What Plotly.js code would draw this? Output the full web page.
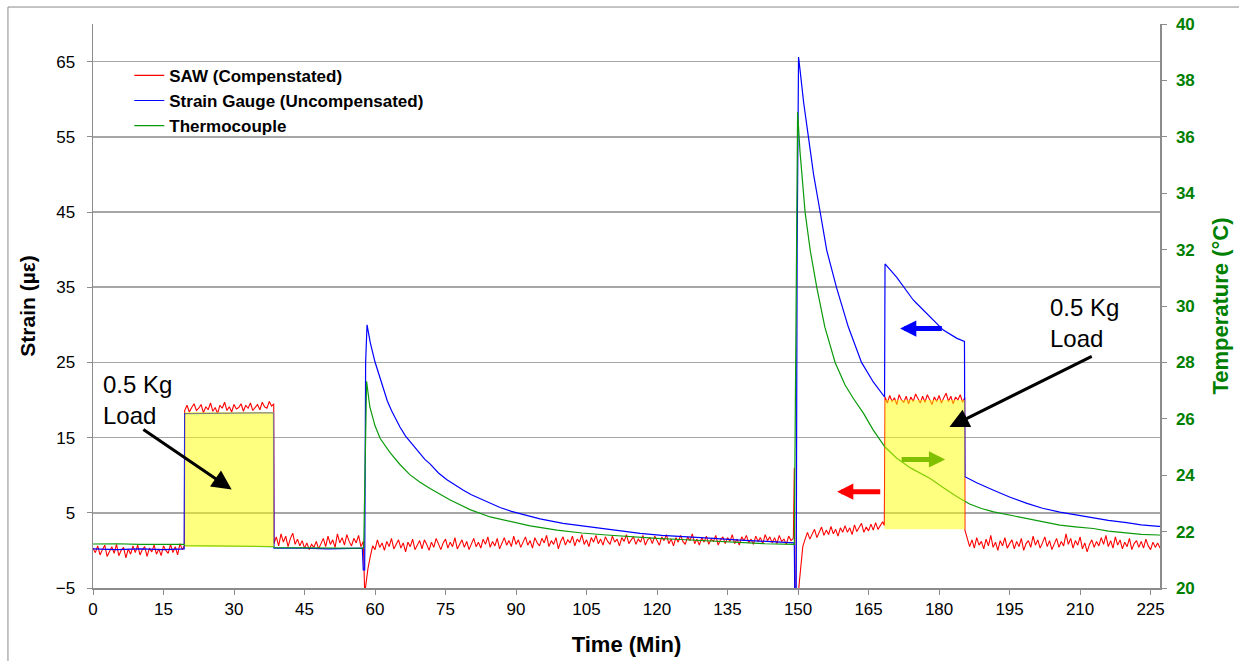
<!DOCTYPE html>
<html>
<head>
<meta charset="utf-8">
<script src="https://cdn.plot.ly/plotly-3.0.1.min.js"></script>
<style>html,body{margin:0;padding:0;background:#fff;}#chart{width:1239px;height:661px;}</style>
</head>
<body>
<div id="chart"></div>
<script>
// ---- SAW (compensated) strain, µε ----
const sawTime = [
0,0.5,1,1.5,2,2.5,3,3.5,4,4.5,5,5.5,6,6.5,7,7.5,8,8.5,9,9.5,10,10.5,11,11.5,12,12.5,13,13.5,14,14.5,15,15.5,16,16.5,17,17.5,18,18.5,19,19.45,
19.5,20,20.5,21,21.5,22,22.5,23,23.5,24,24.5,25,25.5,26,26.5,27,27.5,28,28.5,29,29.5,30,30.5,31,31.5,32,32.5,33,33.5,34,34.5,35,35.5,36,36.5,37,37.5,38,38.45,
38.5,39,39.5,40,40.5,41,41.5,42,42.5,43,43.5,44,44.5,45,45.5,46,46.5,47,47.5,48,48.5,49,49.5,50,50.5,51,51.5,52,52.5,53,53.5,54,54.5,55,55.5,56,56.5,57,57.5,
57.8,58,58.5,59,59.5,
60,60.5,61,61.5,62,62.5,63,63.5,64,64.5,65,65.5,66,66.5,67,67.5,68,68.5,69,69.5,
70,70.5,71,71.5,72,72.5,73,73.5,74,74.5,75,75.5,76,76.5,77,77.5,78,78.5,79,79.5,
80,80.5,81,81.5,82,82.5,83,83.5,84,84.5,85,85.5,86,86.5,87,87.5,88,88.5,89,89.5,
90,90.5,91,91.5,92,92.5,93,93.5,94,94.5,95,95.5,96,96.5,97,97.5,98,98.5,99,99.5,
100,100.5,101,101.5,102,102.5,103,103.5,104,104.5,105,105.5,106,106.5,107,107.5,108,108.5,109,109.5,
110,110.5,111,111.5,112,112.5,113,113.5,114,114.5,115,115.5,116,116.5,117,117.5,118,118.5,119,119.5,
120,120.5,121,121.5,122,122.5,123,123.5,124,124.5,125,125.5,126,126.5,127,127.5,128,128.5,129,129.5,
130,130.5,131,131.5,132,132.5,133,133.5,134,134.5,135,135.5,136,136.5,137,137.5,138,138.5,139,139.5,
140,140.5,141,141.5,142,142.5,143,143.5,144,144.5,145,145.5,146,146.5,147,147.5,148,148.5,149,
149.2,149.4,149.9,150.3,150.7,151,151.5,
152,152.5,153,153.5,154,154.5,155,155.5,156,156.5,157,157.5,158,158.5,159,159.5,160,160.5,161,161.5,
162,162.5,163,163.5,164,164.5,165,165.5,166,166.5,167,167.5,168,168.35,168.4,
168.5,169,169.5,170,170.5,171,171.5,172,172.5,173,173.5,174,174.5,175,175.5,176,176.5,177,177.5,178,
178.5,179,179.5,180,180.5,181,181.5,182,182.5,183,183.5,184,184.5,185,185.45,185.5,
186,186.5,187,187.5,188,188.5,189,189.5,190,190.5,191,191.5,192,192.5,193,193.5,194,194.5,195,195.5,
196,196.5,197,197.5,198,198.5,199,199.5,200,200.5,201,201.5,202,202.5,203,203.5,204,204.5,205,205.5,
206,206.5,207,207.5,208,208.5,209,209.5,210,210.5,211,211.5,212,212.5,213,213.5,214,214.5,215,215.5,
216,216.5,217,217.5,218,218.5,219,219.5,220,220.5,221,221.5,222,222.5,223,223.5,224,224.5,225,225.5,
226,226.5,227];
const sawStrain = [
0.3,-0.3,0.6,-0.6,0.1,0.7,-0.8,-0.1,0.5,-0.4,0.8,-0.7,0.0,0.4,-1.0,0.2,-0.5,0.6,-0.3,0.7,
-0.6,0.1,0.5,-0.8,0.3,-0.2,0.7,-0.5,0.2,-0.7,0.6,0.0,-0.4,0.8,-0.3,0.5,-0.6,0.9,0.1,0.6,
18.6,19.3,18.4,19.0,19.5,18.6,18.9,19.4,18.3,19.1,18.7,19.6,18.5,19.0,18.2,19.3,18.9,19.7,18.6,19.1,
18.4,19.4,18.8,19.0,19.5,18.5,19.3,18.9,19.6,18.6,19.0,19.4,18.7,19.7,19.1,18.9,19.8,19.2,19.5,
0.9,1.8,0.6,2.2,1.1,1.9,0.5,1.6,2.3,0.8,1.5,0.6,1.3,0.3,1.0,0.1,0.8,0.4,1.2,0.2,
1.0,1.6,0.5,1.9,0.8,1.4,0.4,2.2,1.0,1.7,0.7,2.1,1.2,0.6,1.6,1.0,2.0,0.5,1.2,
-5.6,-4.8,-2.4,-0.8,0.6,
0.1,1.4,0.4,1.0,0.0,1.2,0.5,1.6,0.2,0.9,1.4,0.3,1.0,-0.2,1.1,0.5,1.5,0.1,0.7,1.3,
0.2,1.4,0.8,0.0,1.1,0.4,1.6,0.7,0.1,1.0,1.5,0.3,1.1,0.5,1.7,0.2,0.8,1.4,0.4,1.2,
0.1,0.9,1.6,0.5,1.1,0.3,1.5,0.8,1.8,0.4,1.2,0.6,1.6,0.2,1.0,1.7,0.7,1.3,0.5,1.9,
0.8,1.4,0.4,1.2,1.8,0.7,1.3,0.3,1.7,1.0,0.6,1.6,1.0,2.0,0.5,1.3,0.8,1.7,0.2,1.2,
1.8,0.7,1.4,1.0,1.9,0.6,1.5,1.1,2.1,0.8,1.4,0.5,1.7,1.1,2.0,0.9,1.5,0.7,1.8,1.2,
0.8,1.9,1.1,1.5,0.6,1.7,1.2,2.1,0.9,1.4,1.8,0.8,1.5,1.1,2.0,0.7,1.4,1.7,0.9,1.9,
1.2,0.7,1.8,1.3,2.1,0.9,1.5,0.6,1.7,1.1,2.0,1.2,0.8,1.8,1.3,2.2,0.9,1.5,0.7,1.7,
1.1,1.9,0.8,1.5,1.2,2.0,0.7,1.4,1.8,0.9,1.7,1.2,2.1,0.9,1.5,0.7,1.8,1.3,2.0,1.0,
1.5,0.8,1.9,1.2,1.7,0.9,2.1,1.3,1.8,1.0,1.7,0.9,2.0,1.2,1.5,0.8,1.9,1.3,1.6,
11.0,-7.0,-7.0,-4.0,-1.0,0.5,1.5,
2.4,1.5,2.1,2.8,1.7,2.5,3.1,2.0,2.7,2.1,3.2,2.2,2.8,1.9,3.0,2.4,3.3,2.4,3.0,2.1,
3.4,2.5,3.0,3.6,2.4,3.1,2.6,3.5,2.7,3.7,2.8,3.4,3.8,3.3,19.6,
20.4,19.6,20.6,19.8,20.3,19.4,20.7,20.0,19.7,20.5,19.5,20.4,19.8,20.8,20.1,19.6,20.5,19.7,20.7,20.0,
19.4,20.4,19.8,20.6,19.6,20.3,20.9,19.8,20.5,19.5,20.4,20.0,20.7,19.7,20.3,2.7,
1.6,0.5,1.4,0.3,1.7,0.7,1.2,0.2,1.5,0.6,2.0,0.4,1.1,0.0,1.3,0.6,1.7,0.3,0.9,1.4,
0.2,1.2,0.5,1.6,0.0,0.9,1.3,0.4,1.9,0.7,1.4,0.3,1.0,1.8,0.5,1.3,0.1,0.9,1.6,0.4,
1.2,0.6,2.2,0.8,1.6,0.3,1.3,0.7,1.8,0.2,1.0,-0.2,0.8,1.4,0.4,1.2,0.6,1.7,0.8,2.0,
0.5,1.3,0.3,1.8,0.7,1.4,0.2,1.1,0.5,1.6,0.1,0.9,1.3,0.4,1.2,0.3,1.5,0.6,0.1,1.1,
0.4,1.0,0.3];

// ---- Strain gauge (uncompensated), µε ----
const gaugeTime = [0,5,10,15,19.4,19.5,38.4,38.5,45,50,57.3,57.5,57.8,58.0,58.3,59.0,60.0,61.0,61.8,62.6,63.5,64.4,65.3,66.5,67.8,68.7,69.6,70.6,71.7,73.5,75.3,77,78.8,80.5,82.3,84.5,86.6,89,92.3,95.1,100,105.7,110,116.4,121,127,132,137.7,143,149,149.2,149.3,149.6,149.8,150.1,150.4,151.2,152.2,153.3,154.7,156.1,158.2,160.7,163.5,166,168.4,168.5,171,174.5,175.3,178.1,180.9,183.8,185.4,185.5,188,191.6,195,198.7,202,205.7,209,212.8,216,219.9,223,226.7,227];
const gaugeStrain = [0.2,0.1,0.2,0.1,0.2,18.2,18.3,0.3,0.3,0.2,0.3,-2.6,-2.6,25.0,30.0,27.6,25.05,23.0,21.3,19.9,18.6,17.4,16.4,15.2,14.2,13.5,12.8,12.1,11.5,10.3,9.4,8.7,8.0,7.4,6.9,6.2,5.7,5.2,4.7,4.2,3.6,3.1,2.75,2.26,2.0,1.81,1.6,1.37,1.2,1.0,1.0,-6.0,-6.0,40.0,65.6,64.0,59.5,55.0,50.0,45.0,39.9,34.9,29.7,25.0,22.4,20.4,38.1,36.3,33.3,32.8,31.0,29.3,28.2,27.8,9.8,9.0,8.0,7.1,6.25,5.6,5.1,4.75,4.4,4.0,3.7,3.4,3.2,3.2];

// ---- Thermocouple, °C ----
const tcTime = [0,5,10,15,19.4,19.6,25,30,38.4,38.6,45,50,57.4,57.6,58.0,58.2,58.9,60.0,61.1,63.2,65.3,67.4,69.5,71.7,76,80.2,84.5,88.7,93,98.7,104,109.3,114,119.9,125,130.6,137.7,143,149.2,149.6,149.9,150.4,151.5,152.6,154.0,155.7,157.9,160,161.8,163.9,166,168.5,171,174,178.1,181,184,186.5,189,191.6,195,198.7,202,205.7,209,212.8,216,219.9,223,226.7,227];
const tcTemp = [21.56,21.57,21.55,21.56,21.55,21.50,21.49,21.48,21.47,21.43,21.42,21.42,21.41,21.45,26.5,27.33,26.42,25.75,25.3,24.8,24.38,24.02,23.76,23.53,23.12,22.78,22.52,22.35,22.2,22.05,21.95,21.88,21.82,21.76,21.72,21.67,21.6,21.57,21.55,30.0,36.88,35.5,33.32,31.96,30.64,29.25,27.99,27.2,26.71,26.2,25.6,25.0,24.6,24.25,23.88,23.55,23.22,22.98,22.82,22.70,22.58,22.47,22.35,22.23,22.17,22.11,22.02,21.94,21.9,21.88,21.87];

// ---- 0.5 Kg load windows (highlighted) ----
const loadStart = [19.5, 168.4];
const loadEnd   = [38.5, 185.5];
const loadBase  = [0.45, 2.8];
const loadTop   = [18.4, 20.0];

// ---- axis ticks ----
const xTicks = [0,15,30,45,60,75,90,105,120,135,150,165,180,195,210,225];
const strainTicks = [-5,5,15,25,35,45,55,65];
const tempTicks = [20,22,24,26,28,30,32,34,36,38,40];

const FONT = 'Liberation Sans, Arial, sans-serif';
const RED = '#ff0000', BLUE = '#0000ff', GREEN = '#008000';

const traces = [
  {x: sawTime, y: sawStrain, name: 'SAW (Compenstated)', type: 'scatter', mode: 'lines',
   line: {color: RED, width: 1.1}, yaxis: 'y'},
  {x: gaugeTime, y: gaugeStrain, name: 'Strain Gauge (Uncompensated)', type: 'scatter', mode: 'lines',
   line: {color: BLUE, width: 1.2}, yaxis: 'y'},
  {x: tcTime, y: tcTemp, name: 'Thermocouple', type: 'scatter', mode: 'lines',
   line: {color: '#0a9a0a', width: 1.2}, yaxis: 'y2'}
];

const shapes = [
  {type: 'rect', xref: 'paper', yref: 'paper', x0: -0.0797, x1: 1.08, y0: -0.16, y1: 1.0301,
   line: {color: '#8a8a8a', width: 1}, fillcolor: 'rgba(0,0,0,0)', layer: 'below'}
];
loadStart.forEach((s, i) => {
  shapes.push({type: 'rect', xref: 'x', yref: 'y', x0: s, x1: loadEnd[i], y0: loadBase[i], y1: loadTop[i],
    fillcolor: '#ffff00', opacity: 0.5, line: {width: 0}, layer: 'above'});
});

const annotations = [
  {x: 1.7, y: 24.1, xref: 'x', yref: 'y', text: '0.5 Kg<br>Load', showarrow: false,
   xanchor: 'left', yanchor: 'top', align: 'left', font: {family: FONT, size: 24, color: '#000'}},
  {x: 203.2, y: 34.3, xref: 'x', yref: 'y', text: '0.5 Kg<br>Load', showarrow: false,
   xanchor: 'left', yanchor: 'top', align: 'left', font: {family: FONT, size: 24, color: '#000'}},
  {x: 29.5, y: 8.1, ax: 10.4, ay: 16.2, xref: 'x', yref: 'y', axref: 'x', ayref: 'y', text: '',
   showarrow: true, arrowhead: 2, arrowsize: 1.3, arrowwidth: 3, arrowcolor: '#000'},
  {x: 182.2, y: 16.4, ax: 212.8, ay: 25.9, xref: 'x', yref: 'y', axref: 'x', ayref: 'y', text: '',
   showarrow: true, arrowhead: 2, arrowsize: 1.3, arrowwidth: 3, arrowcolor: '#000'},
  {x: 171.7, y: 29.5, ax: 180.9, ay: 29.5, xref: 'x', yref: 'y', axref: 'x', ayref: 'y', text: '',
   showarrow: true, arrowhead: 2, arrowsize: 0.65, arrowwidth: 5, arrowcolor: '#0000ff'},
  {x: 181.3, y: 12.1, ax: 171.7, ay: 12.1, xref: 'x', yref: 'y', axref: 'x', ayref: 'y', text: '',
   showarrow: true, arrowhead: 2, arrowsize: 0.65, arrowwidth: 5, arrowcolor: '#80c000'},
  {x: 158.3, y: 7.8, ax: 167.8, ay: 7.8, xref: 'x', yref: 'y', axref: 'x', ayref: 'y', text: '',
   showarrow: true, arrowhead: 2, arrowsize: 0.65, arrowwidth: 5, arrowcolor: '#ff0000'}
];

const layout = {
  width: 1239, height: 661,
  margin: {l: 93, r: 79, t: 24, b: 73, pad: 0},
  paper_bgcolor: '#ffffff', plot_bgcolor: '#ffffff',
  font: {family: FONT, color: '#000'},
  showlegend: true,
  legend: {x: 0.034, y: 0.94, xanchor: 'left', yanchor: 'top', bgcolor: 'rgba(0,0,0,0)',
    font: {family: FONT, size: 17, color: '#000', weight: 'bold'}, tracegroupgap: 0},
  xaxis: {range: [0, 227], tickvals: xTicks, ticks: 'outside', ticklen: 5, tickcolor: '#8c8c8c',
    showline: true, linecolor: '#8c8c8c', linewidth: 1.5, showgrid: false, zeroline: false,
    tickfont: {family: FONT, size: 17, color: '#000'}, ticklabelstandoff: 0,
    title: {text: 'Time (Min)', font: {family: FONT, size: 22, color: '#000', weight: 'bold'}, standoff: 18}},
  yaxis: {range: [-5, 70], tickvals: strainTicks, ticks: 'outside', ticklen: 5, tickcolor: '#8c8c8c',
    showline: true, linecolor: '#8c8c8c', linewidth: 1.5, showgrid: true, gridcolor: '#a6a6a6', gridwidth: 1.5,
    zeroline: false, tickfont: {family: FONT, size: 17, color: '#000'}, ticklabelstandoff: 8,
    title: {text: 'Strain (µε)', font: {family: FONT, size: 21, color: '#000', weight: 'bold'}, standoff: 14}},
  yaxis2: {range: [20, 40], tickvals: tempTicks, overlaying: 'y', side: 'right', ticks: 'outside', ticklen: 5,
    tickcolor: '#8c8c8c', showline: true, linecolor: '#8c8c8c', linewidth: 1.5, showgrid: false, zeroline: false,
    tickfont: {family: FONT, size: 17, color: GREEN, weight: 'bold'}, ticklabelstandoff: 6,
    title: {text: 'Temperature (°C)', font: {family: FONT, size: 22, color: GREEN, weight: 'bold'}, standoff: 18}},
  shapes: shapes,
  annotations: annotations
};

Plotly.newPlot('chart', traces, layout, {displayModeBar: false, staticPlot: true});
</script>
</body>
</html>
